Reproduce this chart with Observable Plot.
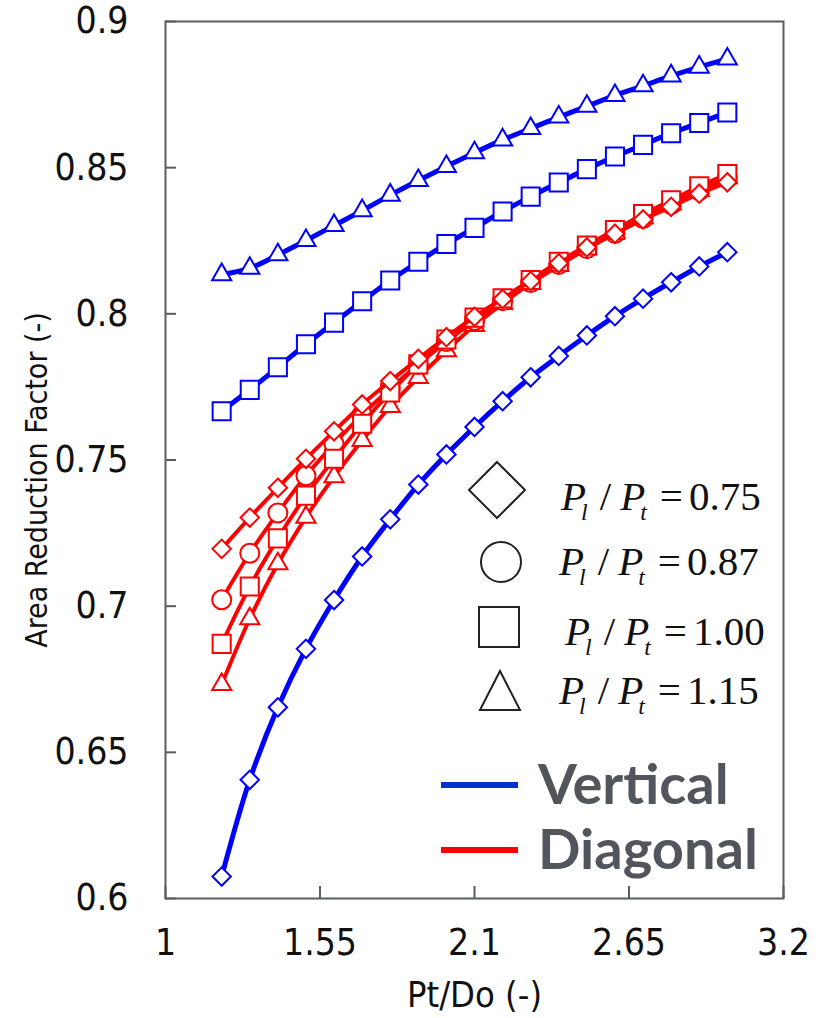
<!DOCTYPE html>
<html><head><meta charset="utf-8">
<script src="https://cdn.jsdelivr.net/npm/d3@7"></script>
<script src="https://cdn.jsdelivr.net/npm/@observablehq/plot@0.6"></script>
<style>body{margin:0;background:#fff}</style>
</head><body><div id="chart"></div>
<script>
// ---- data ----
const xValues = [1.2,1.3,1.4,1.5,1.6,1.7,1.8,1.9,2.0,2.1,2.2,2.3,2.4,2.5,2.6,2.7,2.8,2.9,3.0];
const xTicks = [1, 1.55, 2.1, 2.65, 3.2];
const yTicks = [0.6, 0.65, 0.7, 0.75, 0.8, 0.85, 0.9];

const vertDiamond  = [0.6075,0.6406,0.6654,0.6854,0.7021,0.7170,0.7297,0.7416,0.7519,0.7613,0.7701,0.7783,0.7856,0.7926,0.7992,0.8052,0.8108,0.8162,0.8211];
const vertSquare   = [0.7667,0.7740,0.7817,0.7896,0.7970,0.8043,0.8114,0.8178,0.8239,0.8294,0.8350,0.8401,0.8449,0.8495,0.8538,0.8578,0.8618,0.8653,0.8689];
const vertTriangle = [0.8134,0.8156,0.8202,0.8251,0.8302,0.8353,0.8406,0.8456,0.8504,0.8551,0.8595,0.8634,0.8673,0.8710,0.8747,0.8780,0.8814,0.8844,0.8872];
const diagDiamond  = [0.7196,0.7303,0.7405,0.7504,0.7598,0.7690,0.7770,0.7846,0.7920,0.7990,0.8051,0.8112,0.8173,0.8227,0.8274,0.8323,0.8366,0.8411,0.8450];
const diagCircle   = [0.7022,0.7181,0.7319,0.7446,0.7555,0.7655,0.7744,0.7827,0.7905,0.7977,0.8045,0.8107,0.8169,0.8223,0.8275,0.8326,0.8374,0.8422,0.8466];
const diagSquare   = [0.6871,0.7067,0.7232,0.7378,0.7504,0.7624,0.7731,0.7827,0.7912,0.7987,0.8053,0.8116,0.8178,0.8234,0.8287,0.8341,0.8388,0.8436,0.8478];
const diagTriangle = [0.6732,0.6957,0.7145,0.7304,0.7443,0.7567,0.7683,0.7782,0.7874,0.7960,0.8035,0.8104,0.8165,0.8223,0.8278,0.8329,0.8377,0.8422,0.8466];

const legendRatios = ["0.75", "0.87", "1.00", "1.15"];
const legendOrient = ["Vertical", "Diagonal"];

const series = [
  {orient:"Vertical", shape:"triangle", values: vertTriangle},
  {orient:"Vertical", shape:"square", values: vertSquare},
  {orient:"Vertical", shape:"diamond2", values: vertDiamond},
  {orient:"Diagonal", shape:"triangle", values: diagTriangle},
  {orient:"Diagonal", shape:"circle", values: diagCircle},
  {orient:"Diagonal", shape:"square", values: diagSquare},
  {orient:"Diagonal", shape:"diamond2", values: diagDiamond}
];

const colors = {Vertical: "#0000ff", Diagonal: "#ff0000"};
const lineW = {Vertical: 5, Diagonal: 4};
const radius = {diamond2: 8.3, circle: 9.5, square: 10.2, triangle: 7.1};
const gray = "#5a5d62";
const narrow = "'Liberation Sans Narrow', 'Arial Narrow', 'DejaVu Sans Condensed', 'Liberation Sans', sans-serif";

const marks = [
  Plot.frame({stroke: gray, strokeWidth: 2}),
  Plot.ruleY(yTicks, {stroke: gray, strokeWidth: 2, insetRight: 607}),
  Plot.ruleX(xTicks, {stroke: gray, strokeWidth: 2, insetTop: 865}),
  Plot.axisX(xTicks, {tickSize: 0, tickPadding: 30, fontSize: 37, fontFamily: narrow, fill: "#111", tickFormat: d => String(d), label: null}),
  Plot.axisY(yTicks, {tickSize: 0, tickPadding: 37, fontSize: 37, fontFamily: narrow, fill: "#111", tickFormat: d => String(d), label: null}),
  Plot.text(["Pt/Do (-)"], {frameAnchor: "bottom", textAnchor: "middle", lineAnchor: "middle", dy: 97, fontSize: 36, fontFamily: narrow, fill: "#111"}),
  Plot.text(["Area Reduction Factor (-)"], {frameAnchor: "left", textAnchor: "middle", lineAnchor: "middle", rotate: -90, dx: -128, dy: 20, fontSize: 30, fontFamily: narrow, fill: "#111"})
];

for (const s of series) {
  const data = s.values.map((v, i) => ({x: xValues[i], y: v}));
  marks.push(Plot.line(data, {x: "x", y: "y", stroke: colors[s.orient], strokeWidth: lineW[s.orient], curve: "catmull-rom"}));
  marks.push(Plot.dot(data, {x: "x", y: "y", symbol: s.shape, r: radius[s.shape], stroke: colors[s.orient], strokeWidth: 2, fill: "white"}));
}

const chart = Plot.plot({
  width: 821, height: 1018,
  marginLeft: 165, marginRight: 38, marginTop: 21, marginBottom: 120,
  x: {domain: [1, 3.2]},
  y: {domain: [0.6, 0.9]},
  style: {background: "white", overflow: "visible"},
  marks
});
document.getElementById("chart").append(chart);

// ---- in-plot legend ----
const svg = d3.select(chart);
const lg = svg.append("g").attr("text-anchor", "start");
const sym = lg.append("g").attr("fill", "none").attr("stroke", "#222").attr("stroke-width", 2);
sym.append("path").attr("d", "M497,462L525,490L497,518L469,490Z");
sym.append("circle").attr("cx", 501).attr("cy", 562).attr("r", 20);
sym.append("rect").attr("x", 479).attr("y", 607).attr("width", 40).attr("height", 40);
sym.append("path").attr("d", "M500,671L520,710L480,710Z");

const rowPos = [[561, 510], [559, 575], [565, 645], [559, 704]];
legendRatios.forEach((r, i) => {
  const [x, y] = rowPos[i];
  const t = lg.append("text").attr("x", x).attr("y", y).attr("text-anchor", "start")
    .attr("font-family", "'Liberation Serif', 'Times New Roman', serif").attr("font-size", 41).attr("fill", "#111");
  t.append("tspan").attr("font-style", "italic").text("P");
  t.append("tspan").attr("font-style", "italic").attr("font-size", 24).attr("dx", -5).attr("dy", 10).text("l");
  t.append("tspan").attr("dx", 12).attr("dy", -10).text("/");
  t.append("tspan").attr("font-style", "italic").attr("dx", 9).text("P");
  t.append("tspan").attr("font-style", "italic").attr("font-size", 24).attr("dx", -5).attr("dy", 10).text("t");
  t.append("tspan").attr("dx", 13).attr("dy", -10).text("=");
  t.append("tspan").attr("dx", 6).text(r);
});

const orientPos = [[785, 804], [850, 869]];
legendOrient.forEach((o, i) => {
  const [ly, ty] = orientPos[i];
  lg.append("line").attr("x1", 441).attr("x2", 518).attr("y1", ly).attr("y2", ly)
    .attr("stroke", o === "Vertical" ? "#0033cc" : "#ff0000").attr("stroke-width", 6);
  lg.append("text").attr("x", 538).attr("y", ty).attr("text-anchor", "start")
    .attr("font-family", "Lato, 'Open Sans', sans-serif").attr("font-weight", "bold")
    .attr("font-size", 56).attr("fill", "#52565c").text(o);
});
</script>
</body></html>
